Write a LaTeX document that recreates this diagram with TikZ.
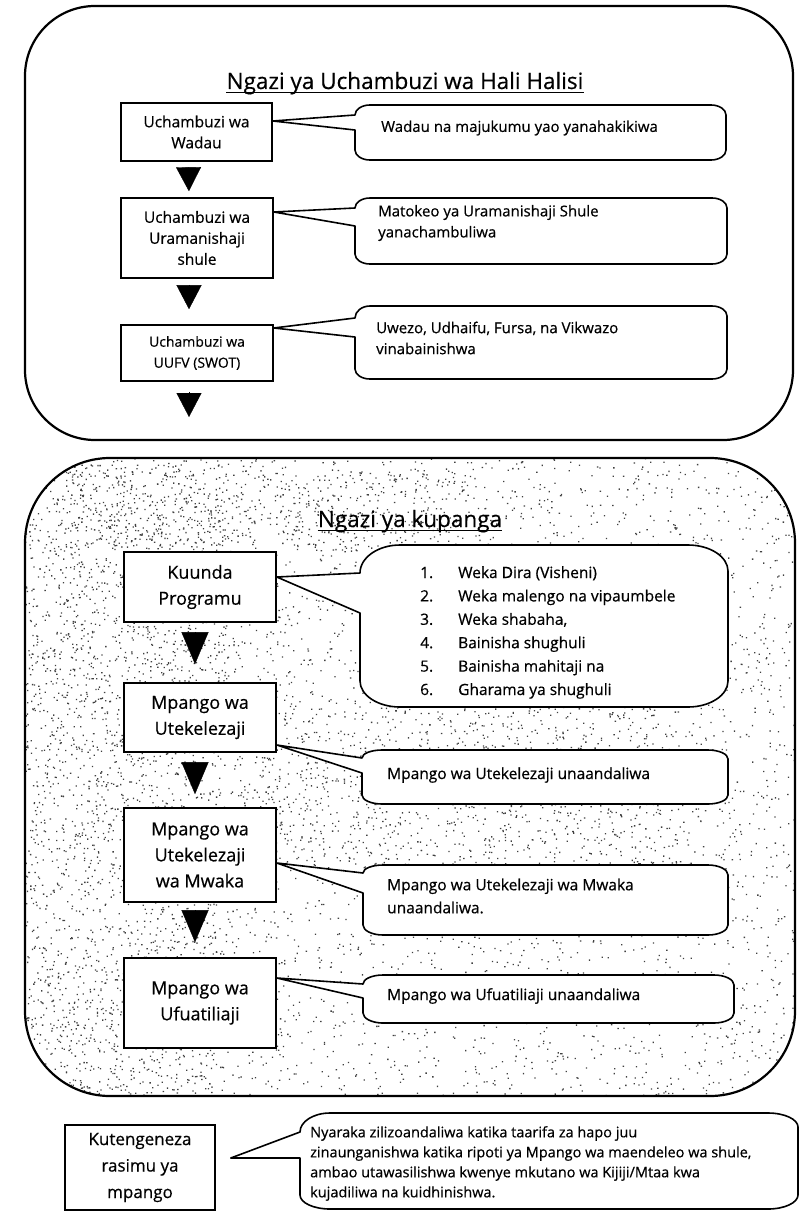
\documentclass[tikz,border=0pt]{standalone}
\usepackage{fontspec}
\setmainfont{Open Sans}[FakeBold=0.5]
\usetikzlibrary{arrows.meta}

\tikzset{
  panel/.style={line width=2.2pt},
  box/.style={draw, line width=1.6pt, fill=white, align=center, inner sep=1pt,
    font=\fontsize{15.5}{21}\selectfont},
  bigbox/.style={box, font=\fontsize{18}{26}\selectfont},
  ctext/.style={inner sep=0pt, align=left, font=\fontsize{15}{21}\selectfont},
  ltext/.style={inner sep=0pt, font=\fontsize{15.5}{23.4}\selectfont},
  title/.style={inner sep=0pt, font=\fontsize{22.5}{26}\selectfont},
  bubbleline/.style={line width=1.6pt, line join=round, fill=white},
  tri/.style={-{Triangle[width=25pt,length=24pt]}, line width=0.4pt},
  bigtri/.style={-{Triangle[width=27pt,length=32pt]}, line width=0.4pt},
  grain/.style={fill=black!75},
}

% callout: left, top, right, bottom, upper and lower foot of the pointer, tip, corner radii
\newcommand{\bubble}[9]{%
  \draw[bubbleline] (#7) -- (#1,#5)
    .. controls (#1,{#5-0.55*(#5-#2)}) and ({#1+0.45*#8},#2) .. ({#1+#8},#2)
    -- ({#3-#8},#2) .. controls ({#3-0.45*#8},#2) and (#3,{#2+0.45*#9}) .. (#3,{#2+#9})
    -- (#3,{#4-#9}) .. controls (#3,{#4-0.45*#9}) and ({#3-0.45*#8},#4) .. ({#3-#8},#4)
    -- ({#1+#8},#4) .. controls ({#1+0.45*#8},#4) and (#1,{#4-0.45*#9}) .. (#1,{#4-#9})
    -- (#1,#6) -- cycle;
}

\begin{document}
\begin{tikzpicture}[x=1pt, y=-1pt]
  \useasboundingbox (0,0) rectangle (801,1212);

  % Ngazi ya uchambuzi
  \draw[panel, rounded corners=70pt] (25,6) rectangle (793,440);
  \node[title, anchor=base] (t1) at (405,89) {Ngazi ya Uchambuzi wa Hali Halisi};
  \draw[line width=1.3pt] ([yshift=-3.5pt]t1.base west) -- ([yshift=-3.5pt]t1.base east);

  \node[box, minimum width=151pt, minimum height=58pt] (a1) at (196.5,132) {Uchambuzi wa\\Wadau};
  \node[box, minimum width=152pt, minimum height=80pt] (a2) at (197,238) {Uchambuzi wa\\Uramanishaji\\shule};
  \node[box, minimum width=152pt, minimum height=56pt, font=\fontsize{14}{21}\selectfont] (a3) at (197,353) {Uchambuzi wa\\UUFV (SWOT)};
  \coordinate (a3end) at (189,417);

  \draw[tri, shorten <=6pt, shorten >=6pt] ([xshift=-8pt]a1.south) -- ([xshift=-8pt]a2.north);
  \draw[tri, shorten <=6pt, shorten >=15pt] ([xshift=-8pt]a2.south) -- ([xshift=-8pt]a3.north);
  \draw[tri, shorten <=10pt] ([xshift=-8pt]a3.south) -- (a3end);

  \coordinate (a1tip) at ([yshift=11pt]a1.east);
  \coordinate (a2tip) at ([yshift=26pt]a2.east);
  \coordinate (a3tip) at ([yshift=25pt]a3.east);
  \bubble{355}{105}{726}{160}{115}{130}{a1tip}{15}{10}
  \bubble{355}{198}{727}{264}{208}{226}{a2tip}{15}{10}
  \bubble{355}{306}{727}{379}{318}{337}{a3tip}{15}{10}
  \node[ctext, anchor=west] (c1txt) at (381,128) {Wadau na majukumu yao yanahakikiwa};
  \node[ctext, anchor=west] (c2txt) at (378,223) {Matokeo ya Uramanishaji Shule\\yanachambuliwa};
  \node[ctext, anchor=west] (c3txt) at (376,338) {Uwezo, Udhaifu, Fursa, na Vikwazo\\vinabainishwa};

  % Ngazi ya kupanga (grainy background)
  \begin{scope}
    \clip[rounded corners=85pt] (25,458) rectangle (795,1096);
    \pgfmathsetseed{17}
    \fill[grain] \foreach \k in {1,...,4400} {({25+770*rnd},{458+638*rnd}) rectangle ++(1.3,1.3)};
    \fill[grain] \foreach \k in {1,...,1800} {({25+200*rnd},{458+638*rnd}) rectangle ++(1.3,1.3)};
    \fill[grain] \foreach \k in {1,...,800} {({240+440*rnd},{700+170*rnd}) rectangle ++(1.3,1.3)};
    \fill[grain] \foreach \k in {1,...,500} {({60+400*rnd},{470+80*rnd}) rectangle ++(1.3,1.3)};
  \end{scope}
  \draw[panel, rounded corners=85pt] (25,458) rectangle (795,1096);
  \node[title, anchor=base] (t2) at (410,527) {Ngazi ya kupanga};
  \draw[line width=1.3pt] ([yshift=-3.5pt]t2.base west) -- ([yshift=-3.5pt]t2.base east);

  \node[bigbox, minimum width=152pt, minimum height=70pt] (b1) at (200,587) {Kuunda\\Programu};
  \node[bigbox, minimum width=152pt, minimum height=69pt] (b2) at (200,717.5) {Mpango wa\\Utekelezaji};
  \node[bigbox, minimum width=152pt, minimum height=94pt] (b3) at (200,855) {Mpango wa\\Utekelezaji\\wa Mwaka};
  \node[bigbox, minimum width=152pt, minimum height=90pt] (b4) at (200,1003) {Mpango wa\\Ufuatiliaji};

  \draw[bigtri, shorten <=9pt, shorten >=18pt] ([xshift=-5pt]b1.south) -- ([xshift=-5pt]b2.north);
  \draw[bigtri, shorten <=9pt, shorten >=13pt] ([xshift=-5pt]b2.south) -- ([xshift=-5pt]b3.north);
  \draw[bigtri, shorten <=7pt, shorten >=15pt] ([xshift=-5pt]b3.south) -- ([xshift=-5pt]b4.north);

  \coordinate (b1tip) at ([yshift=10pt]b1.east);
  \coordinate (b2tip) at ([yshift=-27.5pt]b2.east);
  \coordinate (b3tip) at ([yshift=-8pt]b3.east);
  \coordinate (b4tip) at ([yshift=25pt]b4.east);
  \bubble{360}{545}{728}{707}{573}{613}{b1tip}{40}{26}
  \bubble{362}{750}{728}{804}{758}{773}{b2tip}{20}{9}
  \bubble{363}{865}{728}{935}{873}{893}{b3tip}{20}{10}
  \bubble{363}{975}{734}{1023}{984}{998}{b4tip}{20}{10}

  \foreach \t [count=\i] in {{Weka Dira (Visheni)},{Weka malengo na vipaumbele},{Weka shabaha,},{Bainisha shughuli},{Bainisha mahitaji na},{Gharama ya shughuli}} {
    \node[ltext, anchor=base west] (num\i) at (420,{578+23.4*(\i-1)}) {\i.};
    \node[ltext, anchor=base west] (item\i) at (458,{578+23.4*(\i-1)}) {\t};
  }
  \node[ltext, anchor=west] (d2txt) at (387,775) {Mpango wa Utekelezaji unaandaliwa};
  \node[ltext, anchor=west, align=left, font=\fontsize{15.5}{23}\selectfont] (d3txt) at (387,896) {Mpango wa Utekelezaji wa Mwaka\\unaandaliwa.};
  \node[ltext, anchor=west] (d4txt) at (387,996) {Mpango wa Ufuatiliaji unaandaliwa};

  % Rasimu
  \node[bigbox, minimum width=150pt, minimum height=85pt, font=\fontsize{17}{26.5}\selectfont] (kut) at (140,1167.5) {Kutengeneza\\rasimu ya\\mpango};
  \coordinate (kuttip) at ([xshift=15pt, yshift=9.5pt]kut.east);
  \bubble{300}{1113}{798}{1209}{1132}{1158}{kuttip}{30}{14}
  \node[ctext, anchor=north west, font=\fontsize{14.5}{20}\selectfont] (etxt) at (310,1126) {Nyaraka zilizoandaliwa katika taarifa za hapo juu\\zinaunganishwa katika ripoti ya Mpango wa maendeleo wa shule,\\ambao utawasilishwa kwenye mkutano wa Kijiji/Mtaa kwa\\kujadiliwa na kuidhinishwa.};
\end{tikzpicture}
\end{document}
